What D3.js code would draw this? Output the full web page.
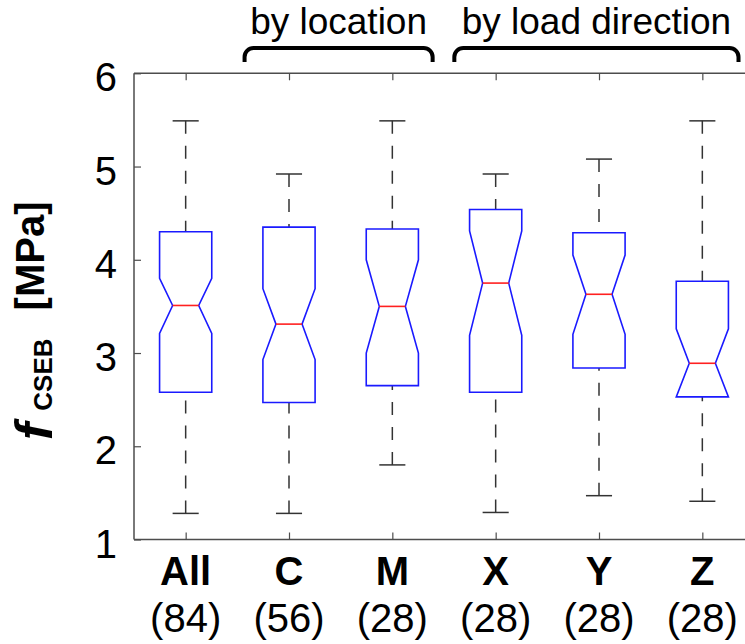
<!DOCTYPE html>
<html>
<head>
<meta charset="utf-8">
<script src="https://cdn.jsdelivr.net/npm/d3@7"></script>
<style>
  body { margin: 0; background: #fff; }
  svg { display: block; font-family: "Liberation Sans", Arial, Helvetica, sans-serif; }
</style>
</head>
<body>
<svg id="chart" width="745" height="644"></svg>
<script>
// values
const categories  = ['All', 'C', 'M', 'X', 'Y', 'Z'];
const counts      = [84, 56, 28, 28, 28, 28];
const whiskerLow  = [1.28, 1.28, 1.80, 1.29, 1.47, 1.41];
const q1          = [2.58, 2.47, 2.65, 2.58, 2.84, 2.53];
const medians     = [3.51, 3.31, 3.50, 3.75, 3.63, 2.89];
const q3          = [4.30, 4.35, 4.33, 4.54, 4.29, 3.77];
const whiskerHigh = [5.49, 4.92, 5.49, 4.92, 5.08, 5.49];
const notchLow    = [3.21, 2.93, 3.00, 3.19, 3.20, 2.52];
const notchHigh   = [3.80, 3.69, 4.00, 4.31, 4.05, 3.26];
const yTicks      = [1, 2, 3, 4, 5, 6];
const groupLabels = ['by location', 'by load direction'];
const groupFrom   = ['C', 'X'];
const groupTo     = ['M', 'Z'];

const STYLE = {
  axisColor   : '#4d4d4d',
  whiskerColor: '#333',
  boxColor    : '#1a1aff',
  medianColor : '#ff2020',
  tickLen     : 7
};

const svg = d3.select('#chart');

const plotLeft = 134, plotRight = 754, plotTop = 73.3, plotBottom = 539.5;

const x = d3.scalePoint()
  .domain(categories)
  .range([plotLeft, plotRight])
  .padding(0.5);

const y = d3.scaleLinear()
  .domain([1, 6])
  .range([plotBottom, plotTop]);

const step = x.step();
const boxW = step * 0.505;
const notchW = boxW / 2;
const capW = boxW / 2;

const boxes = categories.map((c, i) => ({
  cat: c, n: counts[i], lo: whiskerLow[i], q1: q1[i], med: medians[i],
  q3: q3[i], hi: whiskerHigh[i], nlo: Math.max(notchLow[i], q1[i]), nhi: Math.min(notchHigh[i], q3[i])
}));

// frame
const frame = svg.append('g').attr('fill', 'none').attr('stroke', STYLE.axisColor).attr('stroke-width', 1.5);
frame.append('line').attr('x1', plotLeft).attr('x2', plotRight).attr('y1', plotTop).attr('y2', plotTop);
frame.append('line').attr('x1', plotLeft).attr('x2', plotRight).attr('y1', plotBottom).attr('y2', plotBottom);
frame.append('line').attr('x1', plotLeft).attr('x2', plotLeft).attr('y1', plotTop).attr('y2', plotBottom);
frame.append('line').attr('x1', plotRight).attr('x2', plotRight).attr('y1', plotTop).attr('y2', plotBottom);

// ticks (inward)
const yAxis = d3.axisRight(y).tickValues(yTicks).tickSize(STYLE.tickLen).tickFormat('');
svg.append('g').attr('transform', `translate(${plotLeft},0)`).call(yAxis)
  .call(g => g.select('.domain').remove())
  .call(g => g.selectAll('line').attr('stroke', STYLE.axisColor).attr('stroke-width', 1.2));

const xTop = d3.axisBottom(x).tickSize(STYLE.tickLen).tickFormat('');
svg.append('g').attr('transform', `translate(0,${plotTop})`).call(xTop)
  .call(g => g.select('.domain').remove())
  .call(g => g.selectAll('line').attr('stroke', STYLE.axisColor).attr('stroke-width', 1.2));

const xBot = d3.axisTop(x).tickSize(STYLE.tickLen).tickFormat('');
svg.append('g').attr('transform', `translate(0,${plotBottom})`).call(xBot)
  .call(g => g.select('.domain').remove())
  .call(g => g.selectAll('line').attr('stroke', STYLE.axisColor).attr('stroke-width', 1.2));

// y tick labels
svg.append('g').selectAll('text').data(yTicks).join('text')
  .attr('x', plotLeft - 17)
  .attr('y', d => y(d))
  .attr('dy', '0.45em')
  .attr('text-anchor', 'end')
  .attr('font-size', 40)
  .attr('fill', '#000')
  .text(d => d);

// x tick labels
svg.append('g').selectAll('text').data(boxes).join('text')
  .attr('x', d => x(d.cat))
  .attr('y', 585)
  .attr('text-anchor', 'middle')
  .attr('font-size', 40)
  .attr('font-weight', 'bold')
  .text(d => d.cat);

svg.append('g').selectAll('text').data(boxes).join('text')
  .attr('x', d => x(d.cat))
  .attr('y', 632)
  .attr('text-anchor', 'middle')
  .attr('font-size', 40)
  .text(d => '(' + d.n + ')');

// whiskers
const wg = svg.append('g').attr('stroke', STYLE.whiskerColor).attr('stroke-width', 1.5);
wg.selectAll('line.up').data(boxes).join('line').attr('class', 'up')
  .attr('x1', d => x(d.cat)).attr('x2', d => x(d.cat))
  .attr('y1', d => y(d.hi)).attr('y2', d => y(d.q3))
  .attr('stroke-dasharray', '13,12');
wg.selectAll('line.down').data(boxes).join('line').attr('class', 'down')
  .attr('x1', d => x(d.cat)).attr('x2', d => x(d.cat))
  .attr('y1', d => y(d.lo)).attr('y2', d => y(d.q1))
  .attr('stroke-dasharray', '13,12');
wg.selectAll('line.capHi').data(boxes).join('line').attr('class', 'capHi')
  .attr('x1', d => x(d.cat) - capW / 2).attr('x2', d => x(d.cat) + capW / 2)
  .attr('y1', d => y(d.hi)).attr('y2', d => y(d.hi));
wg.selectAll('line.capLo').data(boxes).join('line').attr('class', 'capLo')
  .attr('x1', d => x(d.cat) - capW / 2).attr('x2', d => x(d.cat) + capW / 2)
  .attr('y1', d => y(d.lo)).attr('y2', d => y(d.lo));

// notched boxes
const line = d3.line();
svg.append('g').selectAll('path').data(boxes).join('path')
  .attr('fill', 'none')
  .attr('stroke', STYLE.boxColor)
  .attr('stroke-width', 1.6)
  .attr('d', d => {
    const cx = x(d.cat), hw = boxW / 2, nw = notchW / 2;
    return line([
      [cx - hw, y(d.q3)], [cx + hw, y(d.q3)], [cx + hw, y(d.nhi)],
      [cx + nw, y(d.med)], [cx + hw, y(d.nlo)], [cx + hw, y(d.q1)],
      [cx - hw, y(d.q1)], [cx - hw, y(d.nlo)], [cx - nw, y(d.med)],
      [cx - hw, y(d.nhi)]
    ]) + 'Z';
  });

svg.append('g').selectAll('line').data(boxes).join('line')
  .attr('stroke', STYLE.medianColor)
  .attr('stroke-width', 1.6)
  .attr('x1', d => x(d.cat) - notchW / 2).attr('x2', d => x(d.cat) + notchW / 2)
  .attr('y1', d => y(d.med)).attr('y2', d => y(d.med));

// y axis label
const yl = svg.append('text')
  .attr('transform', `translate(44,440) rotate(-90)`)
  .attr('text-anchor', 'start')
  .attr('font-weight', 'bold')
  .attr('font-size', 40);
yl.append('tspan').attr('font-style', 'italic').attr('font-size', 52).attr('dy', 8).text('f');
yl.append('tspan').attr('font-size', 26).attr('dx', 12).text('CSEB');
yl.append('tspan').attr('dy', -8).attr('dx', 28).text('[MPa]');

// group brackets
const bracketLeft  = [-0.43, -0.4];
const bracketRight = [0.39, 0.35];
const bTop = 48, bBot = 62, rad = 9;
groupLabels.forEach((label, i) => {
  const x0 = x(groupFrom[i]) + bracketLeft[i] * step;
  const x1 = x(groupTo[i]) + bracketRight[i] * step;
  const p = d3.path();
  p.moveTo(x0, bBot);
  p.lineTo(x0, bTop + rad);
  p.arcTo(x0, bTop, x0 + rad, bTop, rad);
  p.lineTo(x1 - rad, bTop);
  p.arcTo(x1, bTop, x1, bTop + rad, rad);
  p.lineTo(x1, bBot);
  svg.append('path').attr('d', p.toString())
    .attr('fill', 'none').attr('stroke', '#000').attr('stroke-width', 4);
  svg.append('text')
    .attr('x', (x0 + x1) / 2)
    .attr('y', 34)
    .attr('text-anchor', 'middle')
    .attr('font-size', 37)
    .text(label);
});
</script>
</body>
</html>
